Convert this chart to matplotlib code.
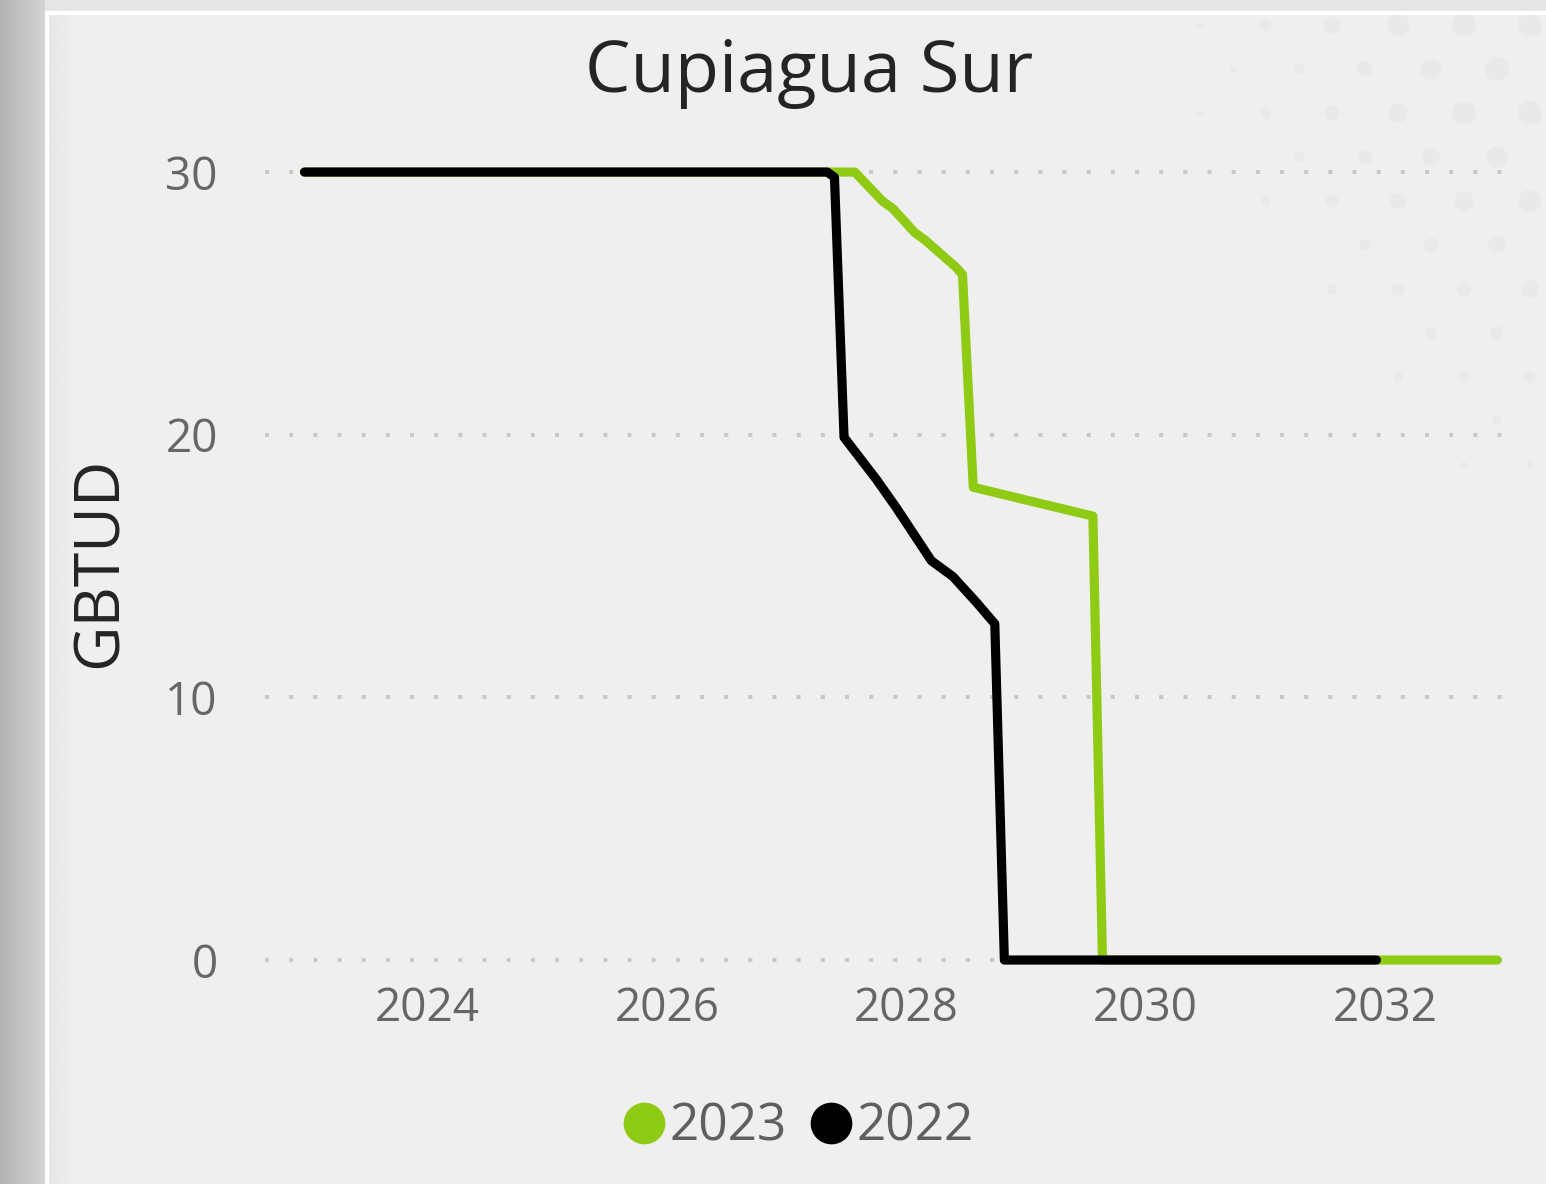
import matplotlib
matplotlib.use("Agg")
import matplotlib.pyplot as plt
import numpy as np
from matplotlib.lines import Line2D

# series values (decimal years, GBTUD)
years_2022 = [2022.97, 2027.34, 2027.40, 2027.48, 2027.75, 2027.92, 2028.21,
              2028.39, 2028.59, 2028.74, 2028.82, 2031.93]
gbtud_2022 = [30.0, 30.0, 29.8, 19.9, 18.3, 17.2, 15.2, 14.6, 13.6, 12.8, 0.0, 0.0]

years_2023 = [2022.97, 2027.57, 2027.80, 2027.89, 2028.07, 2028.16, 2028.26,
              2028.41, 2028.47, 2028.56, 2029.56, 2029.64, 2032.94]
gbtud_2023 = [30.0, 30.0, 28.9, 28.6, 27.7, 27.4, 27.0, 26.4, 26.1, 18.0, 16.9, 0.0, 0.0]

x_ticks = [2024, 2026, 2028, 2030, 2032]
y_ticks = [0, 10, 20, 30]

green = "#8fcb14"
black = "#000000"
panel = "#efefef"

W, H = 1546, 1184
fig = plt.figure(figsize=(W / 100, H / 100), dpi=100)
fig.patch.set_facecolor(panel)
plt.rcParams["font.family"] = ["Open Sans", "DejaVu Sans"]

# background frame: grey shadow strip on the left, top strip, white border
bg = fig.add_axes([0, 0, 1, 1], zorder=-10)
bg.set_xlim(0, W)
bg.set_ylim(H, 0)
bg.axis("off")
grad = np.linspace(0.70, 0.83, 64).reshape(1, -1)
bg.imshow(grad, extent=(0, 45, H, 0), cmap="gray", vmin=0, vmax=1, aspect="auto")
bg.imshow(np.full((1, 1), 0.90), extent=(45, W, 11, 0), cmap="gray", vmin=0, vmax=1, aspect="auto")
shade = np.linspace(0.90, 0.937, 32).reshape(1, -1)
bg.imshow(shade, extent=(49, 75, H, 15), cmap="gray", vmin=0, vmax=1, aspect="auto")
bg.plot([47, 47, W], [H, 13, 13], color="white", lw=3, solid_capstyle="butt")

# faint decorative dots top-right
for i, cx in enumerate(range(1200, W + 40, 66)):
    for j, cy in enumerate(range(25, 480, 44)):
        fx = (cx - 1200) / 346
        fy = (480 - cy) / 455
        if fx + fy > 0.75:
            r = 3 + 9 * min(1, fx * fy * 1.6)
            bg.add_patch(plt.Circle((cx + (j % 2) * 33, cy), r, color="#e9e9e9", lw=0))

left, right = 265 / W, 1520 / W
bottom, top = 1 - 975 / H, 1 - 150 / H
ax = fig.add_axes([left, bottom, right - left, top - bottom])
ax.set_facecolor("none")

ax.plot(years_2023, gbtud_2023, color=green, lw=6.6, solid_capstyle="round",
        solid_joinstyle="round", zorder=3)
ax.plot(years_2022, gbtud_2022, color=black, lw=6.6, solid_capstyle="round",
        solid_joinstyle="round", zorder=4)

ax.set_xlim(2022.64, 2033.13)
ax.set_ylim(-0.57, 30.84)
ax.set_xticks(x_ticks)
ax.set_yticks(y_ticks)

for s in ax.spines.values():
    s.set_visible(False)
ax.tick_params(axis="both", length=0, labelsize=33, labelcolor="#666666")
ax.tick_params(axis="x", pad=8)
ax.tick_params(axis="y", pad=34)

for y in y_ticks:
    ax.axhline(y, color="#c8c8c8", lw=2.9, dashes=(1, 5), dash_capstyle="butt", zorder=1)

ax.set_ylabel("GBTUD", fontsize=45, color="#252423")
ax.yaxis.set_label_coords(-0.106, 0.5)

fig.text(809 / W, 1 - 73 / H, "Cupiagua Sur", ha="center", va="center",
         fontsize=52, color="#252423")

handles = [
    Line2D([], [], marker="o", ls="", color=green, markersize=29),
    Line2D([], [], marker="o", ls="", color=black, markersize=29),
]
fig.legend(handles, ["2023", "2022"], loc="center", bbox_to_anchor=(801 / W, 1 - 1127 / H),
           ncol=2, frameon=False, fontsize=37, labelcolor="#5f5f5f",
           handlelength=0.6, handletextpad=0.2, columnspacing=0.55)

fig.savefig("out.png", dpi=100, facecolor=fig.get_facecolor())
